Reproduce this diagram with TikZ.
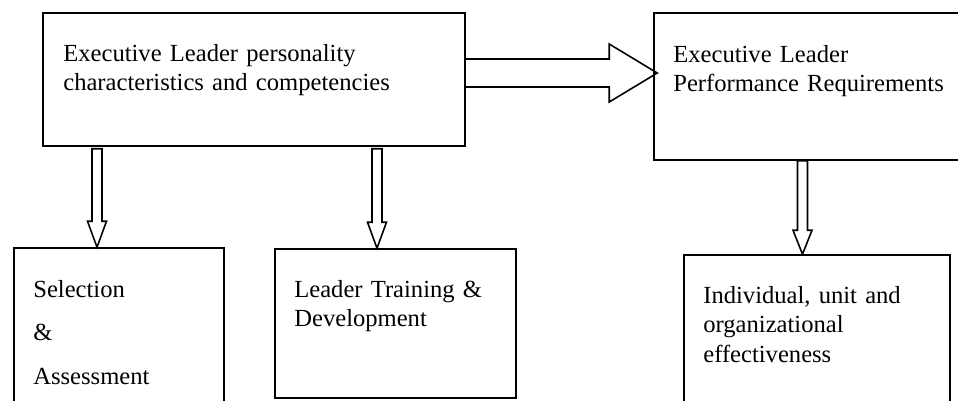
\documentclass[tikz,border=0pt]{standalone}
\usepackage{fontspec}
\setmainfont{Liberation Serif}
\usetikzlibrary{calc}

\newcommand{\hollowdown}[3]{\draw[hollow] ($(#1)+(-5,0)$) -- ($(#2)+(-5,-#3)$) -- ($(#2)+(-9.5,-#3)$) -- (#2) -- ($(#2)+(9.5,-#3)$) -- ($(#2)+(5,-#3)$) -- ($(#1)+(5,0)$) -- cycle;}
\newcommand{\hollowright}[2]{\draw[hollow] ($(#1)+(0,-14)$) -- ($(#2)+(-48,-14)$) -- ($(#2)+(-48,-29)$) -- (#2) -- ($(#2)+(-48,29)$) -- ($(#2)+(-48,14)$) -- ($(#1)+(0,14)$);}

\begin{document}
\begin{tikzpicture}[x=0.02cm, y=-0.02cm,
  box/.style={draw, line width=0.9pt, inner sep=0},
  txt/.style={anchor=base west, inner sep=0, text width=#1, align=left, font=\fontsize{14}{16.8}\selectfont},
  txt/.default=8cm,
  hollow/.style={line width=0.9pt, line join=miter}]

\useasboundingbox (0,0) rectangle (958,400);
\clip (0,0) rectangle (958,400);

\node[box, minimum width=8.44cm, minimum height=2.66cm] (lead) at (254,79.5) {};
\node[txt] (leadtext) at (63,61) {Executive Leader personality\\characteristics and competencies};

\node[box, minimum width=6.52cm, minimum height=2.94cm] (perf) at (817,86.5) {};
\node[txt=6cm] (perftext) at (673,62) {Executive Leader\\Performance Requirements};

\node[box, minimum width=4.2cm, minimum height=3.64cm] (select) at (119,339) {};
\node[txt=3.6cm, font=\fontsize{14}{25}\selectfont] (selecttext) at (33,297) {Selection\\\&\\Assessment};

\node[box, minimum width=4.82cm, minimum height=2.98cm] (train) at (395.5,323.5) {};
\node[txt=4.4cm] (traintext) at (294,297) {Leader Training \&\\Development};

\node[box, minimum width=5.32cm, minimum height=3.5cm] (effect) at (817,342.5) {};
\node[txt=4.8cm] (effecttext) at (703,303) {Individual, unit and\\organizational\\effectiveness};

\coordinate (hy) at (0,73);
\coordinate (h0) at (lead.east |- hy);
\coordinate (h1) at ($(perf.west |- hy)+(4,0)$);
\hollowright{h0}{h1}

\coordinate (xsel) at (97,0);
\coordinate (s1) at ($(lead.south -| xsel)+(0,2)$);
\coordinate (t1) at (select.north -| xsel);
\hollowdown{s1}{t1}{26}

\coordinate (xtrain) at (377,0);
\coordinate (s2) at ($(lead.south -| xtrain)+(0,2)$);
\coordinate (t2) at (train.north -| xtrain);
\hollowdown{s2}{t2}{26}

\coordinate (xeff) at (802.5,0);
\coordinate (s3) at (perf.south -| xeff);
\coordinate (t3) at (effect.north -| xeff);
\hollowdown{s3}{t3}{24}
\end{tikzpicture}
\end{document}
